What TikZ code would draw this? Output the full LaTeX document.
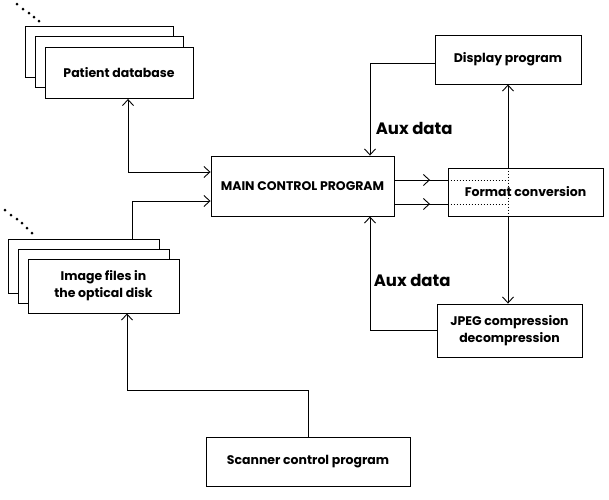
\documentclass[tikz,border=0pt]{standalone}
\usepackage{fontspec}
\setsansfont{Poppins}
\usetikzlibrary{arrows.meta,decorations.markings}

\begin{document}
\begin{tikzpicture}[x=1pt, y=-1pt, line width=0.9pt, >={Straight Barb[length=6pt,width=11pt]},
  every node/.style={font=\sffamily\bfseries\fontsize{12.5}{17}\selectfont},
  box/.style={draw, fill=white, inner sep=3pt, align=center},
  store/.style={box, minimum width=148pt, minimum height=51pt},
  midarrow/.style={postaction={decorate}, decoration={markings, mark=at position #1 with {\arrow{>}}}},
  dotline/.style={dash pattern=on 1pt off 2pt},
  auxlabel/.style={anchor=west, font=\sffamily\bfseries\fontsize{16.5}{19}\selectfont}]
  \useasboundingbox (0,0) rectangle (609,499);
  % stacked stores on the left
  \node[store] (pat3) at (99,52) {};
  \node[store] (pat2) at (109,62) {};
  \node[store] (pat) at (119,73) {Patient database};
  \node[store, minimum width=151pt, minimum height=54pt] (img3) at (83.5,266.5) {};
  \node[store, minimum width=151pt, minimum height=54pt] (img2) at (93.5,276) {};
  \node[store, minimum width=151pt, minimum height=54pt] (img) at (103.5,286) {Image files in\\the optical disk};
  \foreach \px/\py in {17/4, 23/9, 29/13, 34/17, 39/21}
    \fill (\px,\py) circle (1.5pt);
  \foreach \px/\py in {5/210, 11/215, 17/219, 22/223, 27/228, 32/233}
    \fill (\px,\py) circle (1.5pt);

  \node[box, minimum width=183pt, minimum height=60pt] (main) at (302.5,186) {MAIN CONTROL PROGRAM};
  \node[box, minimum width=146pt, minimum height=49pt] (disp) at (508,59.5) {Display program};
  \node[box, minimum width=155pt, minimum height=48pt] (fmt) at (525.5,192) {Format conversion};
  \node[box, minimum width=145pt, minimum height=53pt] (jpeg) at (509.5,330.5) {JPEG compression\\decompression};
  \node[box, minimum width=204pt, minimum height=49pt] (scan) at (308,461.5) {Scanner control program};

  \node[auxlabel] (aux1) at (372,128) {Aux data};
  \node[auxlabel] (aux2) at (370,280) {Aux data};

  \draw[<->] ([xshift=9pt]pat.south) |- ([yshift=14pt]main.west);
  \draw[->] ([xshift=48.5pt]img3.north) |- ([yshift=-15pt]main.west);
  \draw[->] ([yshift=-3.5pt]disp.west) -| ([xshift=67.5pt]main.north);
  \draw[->] (jpeg.west) -| ([xshift=67.5pt]main.south);
  \draw[->] (scan.north) -- ++(0pt,46pt) -| ([xshift=23.5pt]img.south);

  % main program into format conversion
  \coordinate (d1) at (508,180);
  \coordinate (d2) at (508,204);
  \draw[midarrow=0.67] ([yshift=6pt]main.east) -- ([yshift=12pt]fmt.west);
  \draw[midarrow=0.67] ([yshift=-18pt]main.east) -- ([yshift=-12pt]fmt.west);
  \draw[dotline] ([yshift=12pt]fmt.west) -- (d1);
  \draw[dotline] ([yshift=-12pt]fmt.west) -- (d2);
  \draw[->] (disp.south |- fmt.north) -- (disp.south);
  \draw[dotline] (disp.south |- fmt.north) -- (disp.south |- fmt.south);
  \draw[->] (disp.south |- fmt.south) -- (disp.south |- jpeg.north);
\end{tikzpicture}
\end{document}
